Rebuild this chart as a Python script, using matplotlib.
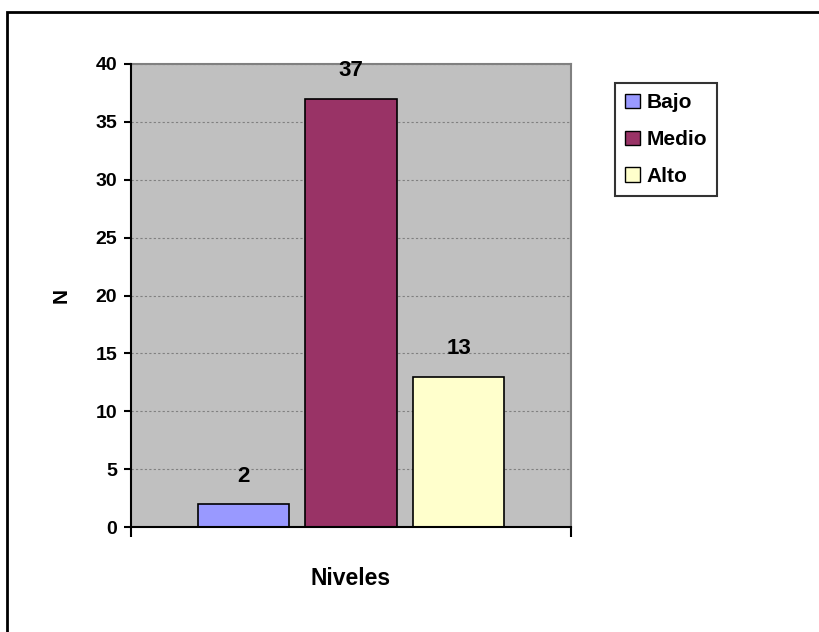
import numpy as np
import matplotlib.pyplot as plt
from matplotlib.patches import Rectangle

plt.rcParams['font.family'] = ['Liberation Sans', 'DejaVu Sans']
plt.rcParams['font.weight'] = 'bold'

# niveles y frecuencias
niveles = ['Bajo', 'Medio', 'Alto']
valores = [2, 37, 13]
colores = ['#9999FF', '#993366', '#FFFFCC']
yticks = [0, 5, 10, 15, 20, 25, 30, 35, 40]

fig = plt.figure(figsize=(8.2, 6.32), dpi=100)
ax = fig.add_axes([131/820, 1 - 527/632, 440/820, 463/632])
ax.set_facecolor('#C0C0C0')

offset = 0.245
width = 0.207
for i, (nom, val, col) in enumerate(zip(niveles, valores, colores)):
    x = (i - 1) * offset
    ax.bar(x, val, width=width, color=col, edgecolor='black', linewidth=1.2, label=nom, zorder=3)
    ax.annotate(str(val), (x, val), xytext=(0, 20), textcoords='offset points',
                ha='center', va='center', fontsize=16, fontweight='bold', zorder=4)

ax.set_xlim(-0.5, 0.5)
ax.set_ylim(0, 40)
ax.set_yticks(yticks)
ax.set_yticklabels([str(t) for t in yticks], fontsize=14, fontweight='bold')
ax.set_xticks([-0.5, 0.5])
ax.set_xticklabels(['', ''])
ax.tick_params(axis='y', direction='out', length=5, width=1.5, pad=5)
ax.tick_params(axis='x', direction='out', length=7, width=1.5)

ax.yaxis.grid(True, color='#808080', linestyle=(0, (2, 2)), linewidth=0.8, zorder=1)
ax.set_axisbelow(True)

for s in ['left', 'bottom']:
    ax.spines[s].set_color('black')
    ax.spines[s].set_linewidth(1.5)
    ax.spines[s].set_zorder(5)
for s in ['top', 'right']:
    ax.spines[s].set_color('#808080')
    ax.spines[s].set_linewidth(1.5)

ax.set_xlabel('Niveles', fontsize=16.5, fontweight='bold', labelpad=18)
ax.set_ylabel('N', fontsize=15, fontweight='bold', labelpad=18)

leg = fig.legend(loc='upper left', bbox_to_anchor=(615/820, 1 - 83/632),
                 fontsize=15, frameon=True, fancybox=False, edgecolor='black',
                 handlelength=0.7, handleheight=0.7, handletextpad=0.3,
                 labelspacing=0.85, borderpad=0.5, borderaxespad=0)
leg.get_frame().set_linewidth(1.5)
for h in leg.legend_handles:
    h.set_edgecolor('black')
    h.set_linewidth(1)

# marco exterior
fig.patches.append(Rectangle((7/820, -0.05), 1.1, 1 - 12/632 + 0.05, transform=fig.transFigure,
                             fill=False, edgecolor='black', linewidth=2, zorder=10))

fig.savefig('out.png', dpi=100)
